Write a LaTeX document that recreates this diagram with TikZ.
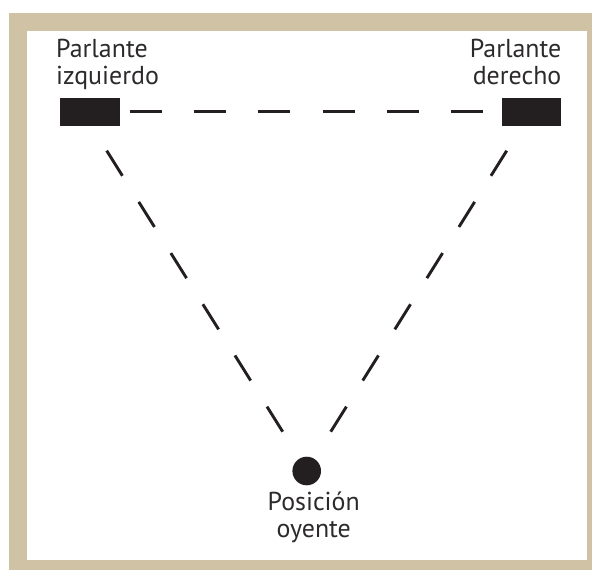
\documentclass[tikz,border=0pt]{standalone}
\usepackage{fontspec}
\setmainfont{PT Sans}
\definecolor{frametan}{RGB}{208,194,164}
\definecolor{ink}{RGB}{35,31,32}
\definecolor{txt}{RGB}{45,42,43}
\begin{document}
\begin{tikzpicture}[x=1bp,y=-1bp,
  speaker/.style={draw=none,fill=ink,rectangle,inner sep=0,minimum height=28bp},
  seat/.style={draw=none,fill=ink,circle,inner sep=0,minimum size=28.6bp},
  lbl/.style={inner sep=0,text=txt,font=\fontsize{26}{26.9}\selectfont},
  dashH/.style={draw=ink,line width=2.9bp,dash pattern=on 32bp off 32.2bp},
  dashD/.style={draw=ink,line width=2.9bp,dash pattern=on 29.6bp off 30.8bp}]
\useasboundingbox (0,0) rectangle (592,570);
\fill[frametan] (9,13) rectangle (592,570);
\fill[white] (27,31) rectangle (587,560);
\node[speaker,minimum width=60bp] (spkL) at (90,112) {};
\node[speaker,minimum width=59bp] (spkR) at (531.5,112) {};
\node[seat] (seat) at (306.7,471) {};
\coordinate (hA) at (130,111.7);
\coordinate (hB) at (483,111.7);
\coordinate (lA) at (106.7,150.7);
\coordinate (lB) at (282.7,431.7);
\coordinate (rA) at (506.7,150.7);
\coordinate (rB) at (330.7,431.7);
\draw[dashH] (hA) -- (hB);
\draw[dashD] (lA) -- (lB);
\draw[dashD] (rA) -- (rB);
\node[lbl,anchor=base west,align=left] (tL) at (56,84.5) {Parlante\\izquierdo};
\node[lbl,anchor=base east,align=right] (tR) at (561.5,84.5) {Parlante\\derecho};
\node[lbl,anchor=base,align=center] (tS) at (313.7,537.5) {Posición\\oyente};
\end{tikzpicture}
\end{document}
